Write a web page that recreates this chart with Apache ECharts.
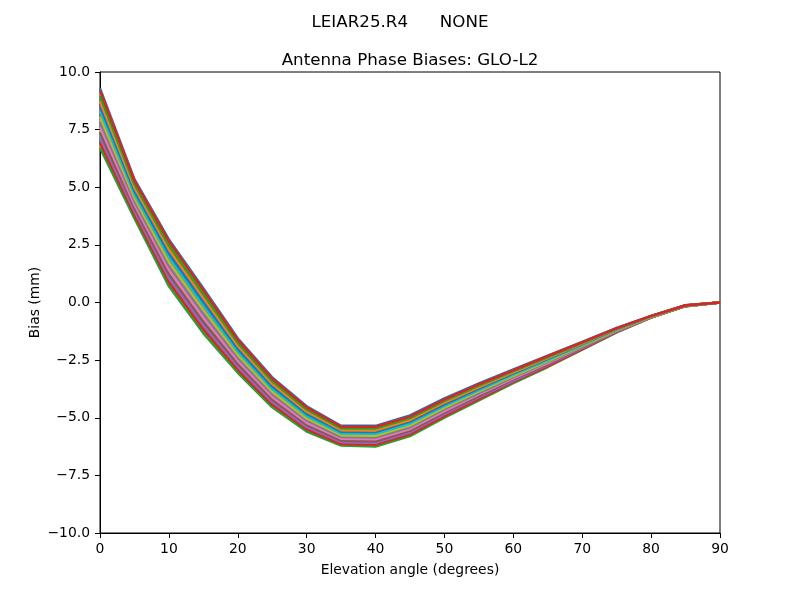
<!DOCTYPE html>
<html>
<head>
<meta charset="utf-8">
<script src="https://cdn.jsdelivr.net/npm/echarts@6/dist/echarts.min.js"></script>
<style>html,body{margin:0;padding:0;background:#fff}#c{width:800px;height:600px}</style>
</head>
<body>
<div id="c"></div>
<script>
const elevations = [0,5,10,15,20,25,30,35,40,45,50,55,60,65,70,75,80,85,90];
const xTicks = [0,10,20,30,40,50,60,70,80,90];
const yTicks = [-10,-7.5,-5,-2.5,0,2.5,5,7.5,10];
const mainTitle = 'LEIAR25.R4      NONE';
const subTitle = 'Antenna Phase Biases: GLO-L2';
const palette = ['#1f77b4','#ff7f0e','#2ca02c','#d62728','#9467bd','#8c564b','#e377c2','#7f7f7f','#bcbd22','#17becf'];

const az000 = [9.30, 5.35, 2.74, 0.62, -1.55, -3.25, -4.50, -5.35, -5.35, -4.90, -4.16, -3.51, -2.90, -2.30, -1.71, -1.10, -0.58, -0.12, 0];
const az015 = [9.07, 5.20, 2.56, 0.45, -1.68, -3.36, -4.60, -5.42, -5.43, -4.98, -4.23, -3.57, -2.95, -2.34, -1.74, -1.12, -0.59, -0.12, 0];
const az030 = [8.85, 5.05, 2.39, 0.28, -1.81, -3.48, -4.69, -5.50, -5.51, -5.06, -4.31, -3.64, -3.00, -2.39, -1.77, -1.13, -0.59, -0.13, 0];
const az045 = [8.62, 4.91, 2.21, 0.11, -1.94, -3.59, -4.79, -5.57, -5.58, -5.13, -4.38, -3.70, -3.06, -2.43, -1.80, -1.15, -0.60, -0.13, 0];
const az060 = [8.40, 4.76, 2.03, -0.06, -2.07, -3.70, -4.88, -5.65, -5.66, -5.21, -4.45, -3.77, -3.11, -2.47, -1.83, -1.17, -0.61, -0.13, 0];
const az075 = [8.17, 4.61, 1.85, -0.23, -2.20, -3.82, -4.98, -5.72, -5.74, -5.29, -4.53, -3.83, -3.16, -2.52, -1.86, -1.19, -0.61, -0.14, 0];
const az090 = [7.94, 4.46, 1.68, -0.40, -2.33, -3.93, -5.07, -5.80, -5.82, -5.37, -4.60, -3.90, -3.21, -2.56, -1.89, -1.20, -0.62, -0.14, 0];
const az105 = [7.72, 4.32, 1.50, -0.57, -2.46, -4.04, -5.17, -5.87, -5.90, -5.45, -4.67, -3.96, -3.27, -2.60, -1.92, -1.22, -0.63, -0.14, 0];
const az120 = [7.49, 4.17, 1.32, -0.74, -2.59, -4.15, -5.27, -5.95, -5.98, -5.53, -4.74, -4.02, -3.32, -2.65, -1.95, -1.24, -0.64, -0.15, 0];
const az135 = [7.27, 4.02, 1.14, -0.91, -2.72, -4.27, -5.36, -6.02, -6.05, -5.60, -4.82, -4.09, -3.37, -2.69, -1.98, -1.26, -0.64, -0.15, 0];
const az150 = [7.04, 3.87, 0.97, -1.08, -2.85, -4.38, -5.46, -6.10, -6.13, -5.68, -4.89, -4.15, -3.42, -2.73, -2.01, -1.27, -0.65, -0.15, 0];
const az165 = [6.81, 3.72, 0.79, -1.25, -2.98, -4.49, -5.55, -6.17, -6.21, -5.76, -4.96, -4.22, -3.47, -2.78, -2.04, -1.29, -0.66, -0.16, 0];
const az180 = [6.70, 3.65, 0.70, -1.34, -3.05, -4.55, -5.60, -6.21, -6.25, -5.80, -5.00, -4.25, -3.50, -2.80, -2.05, -1.30, -0.66, -0.16, 0];
const az195 = [6.93, 3.80, 0.88, -1.17, -2.92, -4.44, -5.50, -6.14, -6.17, -5.72, -4.93, -4.19, -3.45, -2.76, -2.02, -1.28, -0.65, -0.16, 0];
const az210 = [7.15, 3.95, 1.05, -1.00, -2.79, -4.32, -5.41, -6.06, -6.09, -5.64, -4.85, -4.12, -3.40, -2.71, -1.99, -1.27, -0.65, -0.15, 0];
const az225 = [7.38, 4.09, 1.23, -0.83, -2.66, -4.21, -5.31, -5.99, -6.02, -5.57, -4.78, -4.06, -3.34, -2.67, -1.96, -1.25, -0.64, -0.15, 0];
const az240 = [7.60, 4.24, 1.41, -0.66, -2.53, -4.10, -5.22, -5.91, -5.94, -5.49, -4.71, -3.99, -3.29, -2.63, -1.93, -1.23, -0.63, -0.15, 0];
const az255 = [7.83, 4.39, 1.59, -0.49, -2.40, -3.98, -5.12, -5.84, -5.86, -5.41, -4.63, -3.93, -3.24, -2.58, -1.90, -1.21, -0.63, -0.14, 0];
const az270 = [8.06, 4.54, 1.76, -0.32, -2.27, -3.87, -5.03, -5.76, -5.78, -5.33, -4.56, -3.86, -3.19, -2.54, -1.87, -1.20, -0.62, -0.14, 0];
const az285 = [8.28, 4.68, 1.94, -0.15, -2.14, -3.76, -4.93, -5.69, -5.70, -5.25, -4.49, -3.80, -3.13, -2.50, -1.84, -1.18, -0.61, -0.14, 0];
const az300 = [8.51, 4.83, 2.12, 0.02, -2.01, -3.65, -4.83, -5.61, -5.62, -5.17, -4.42, -3.74, -3.08, -2.45, -1.81, -1.16, -0.60, -0.13, 0];
const az315 = [8.73, 4.98, 2.30, 0.19, -1.88, -3.53, -4.74, -5.54, -5.55, -5.10, -4.34, -3.67, -3.03, -2.41, -1.78, -1.14, -0.60, -0.13, 0];
const az330 = [8.96, 5.13, 2.47, 0.36, -1.75, -3.42, -4.64, -5.46, -5.47, -5.02, -4.27, -3.61, -2.98, -2.37, -1.75, -1.13, -0.59, -0.13, 0];
const az345 = [9.19, 5.28, 2.65, 0.53, -1.62, -3.31, -4.55, -5.39, -5.39, -4.94, -4.20, -3.54, -2.93, -2.32, -1.72, -1.11, -0.58, -0.12, 0];

const lines = [az000, az015, az030, az045, az060, az075, az090, az105, az120, az135, az150, az165,
               az180, az195, az210, az225, az240, az255, az270, az285, az300, az315, az330, az345];

const fmtY = v => (v < 0 ? '\u2212' : '') + Math.abs(v).toFixed(1);
const font = 'DejaVu Sans';

const series = lines.map((vals, i) => ({
  type: 'line',
  data: elevations.map((e, k) => [e, vals[k]]),
  symbol: 'none',
  silent: true,
  animation: false,
  lineStyle: { width: 2.4, color: palette[i % palette.length] }
}));

const chart = echarts.init(document.getElementById('c'), null, { renderer: 'canvas' });
chart.setOption({
  backgroundColor: '#fff',
  animation: false,
  title: [
    { text: mainTitle, left: 395, textAlign: 'center', top: 9, textStyle: { fontFamily: font, fontSize: 16.7, fontWeight: 'normal', color: '#000' } },
    { text: subTitle, left: 405, textAlign: 'center', top: 47, textStyle: { fontFamily: font, fontSize: 16.7, fontWeight: 'normal', color: '#000' } }
  ],
  grid: { left: 100, right: 80, top: 72, bottom: 67, show: true, borderColor: '#000', borderWidth: 1, backgroundColor: 'transparent' },
  xAxis: {
    type: 'value', min: 0, max: 90, interval: 10,
    name: 'Elevation angle (degrees)', nameLocation: 'middle', nameGap: 30,
    nameMoveOverlap: false,
    nameTextStyle: { fontFamily: font, fontSize: 13.9, color: '#000' },
    axisLine: { show: true, onZero: false, lineStyle: { color: '#000', width: 1 } },
    axisTick: { show: true, inside: false, length: 5, lineStyle: { color: '#000' } },
    axisLabel: { fontFamily: font, fontSize: 13.9, color: '#000', margin: 9,
      formatter: v => xTicks.includes(v) ? String(v) : '' },
    splitLine: { show: false }
  },
  yAxis: {
    type: 'value', min: -10, max: 10, interval: 2.5,
    name: 'Bias (mm)', nameLocation: 'middle', nameGap: 58, nameRotate: 90,
    nameMoveOverlap: false,
    nameTextStyle: { fontFamily: font, fontSize: 13.9, color: '#000' },
    axisLine: { show: true, onZero: false, lineStyle: { color: '#000', width: 1 } },
    axisTick: { show: true, inside: false, length: 5, lineStyle: { color: '#000' } },
    axisLabel: { fontFamily: font, fontSize: 13.9, color: '#000', margin: 10,
      formatter: v => yTicks.includes(v) ? fmtY(v) : '' },
    splitLine: { show: false }
  },
  series: series
});
</script>
</body>
</html>
